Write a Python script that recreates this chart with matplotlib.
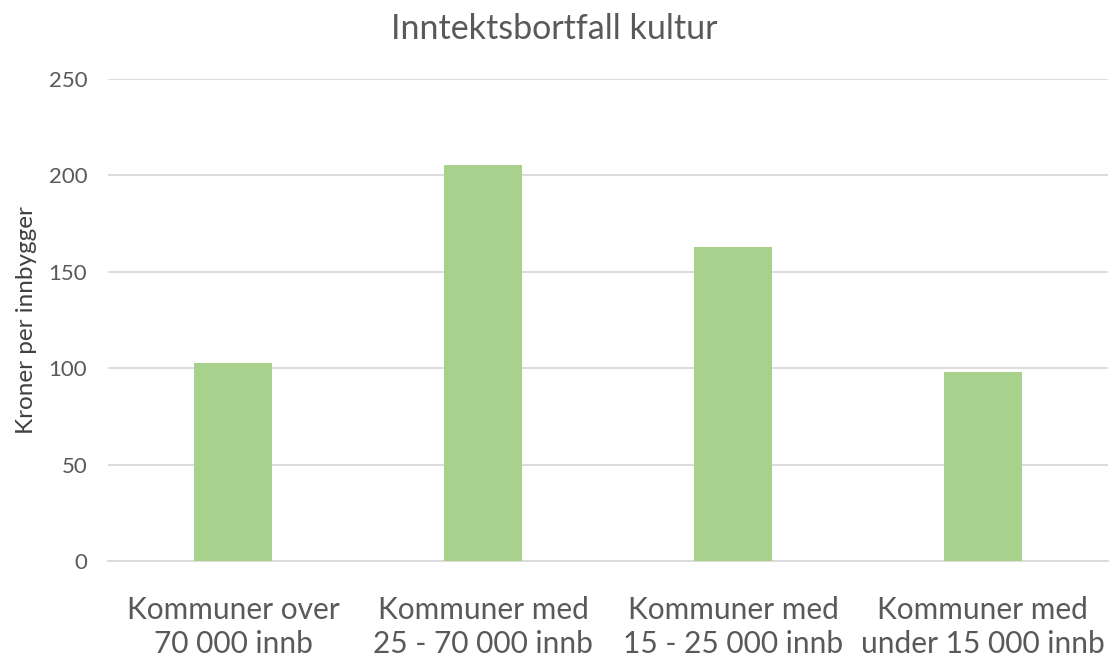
import matplotlib
matplotlib.use("Agg")
import matplotlib.pyplot as plt

categories = [
    "Kommuner over\n70 000 innb",
    "Kommuner med\n25 - 70 000 innb",
    "Kommuner med\n15 - 25 000 innb",
    "Kommuner med\nunder 15 000 innb",
]
values = [102.8, 205.3, 162.8, 97.9]
yticks = [0, 50, 100, 150, 200, 250]

plt.rcParams["font.family"] = ["Lato", "DejaVu Sans"]

fig = plt.figure(figsize=(11.09, 6.56), dpi=100)
ax = fig.add_axes([0.0974, 0.1448, 0.9016, 0.7348])

x = range(len(categories))
ax.bar(x, values, width=0.312, color="#A9D18E", zorder=3)

ax.set_xlim(-0.5, len(categories) - 0.5)
ax.set_ylim(0, 250)
ax.set_yticks(yticks)
ax.set_xticks(list(x))
ax.set_xticklabels(categories, fontsize=21.5, color="#595959", linespacing=1.28)
ax.tick_params(axis="y", labelsize=16, labelcolor="#595959", length=0, pad=15)
ax.tick_params(axis="x", length=0, pad=25)

ax.grid(axis="y", color="#D9D9D9", linewidth=1.3, zorder=0)
for s in ["top", "right", "left"]:
    ax.spines[s].set_visible(False)
ax.spines["bottom"].set_color("#D9D9D9")
ax.spines["bottom"].set_linewidth(1.3)

ax.set_ylabel("Kroner per innbygger", fontsize=17.5, color="#404040", labelpad=8)
fig.suptitle("Inntektsbortfall kultur", fontsize=24.5, color="#595959", y=0.98)

fig.savefig("out.png", dpi=100)
